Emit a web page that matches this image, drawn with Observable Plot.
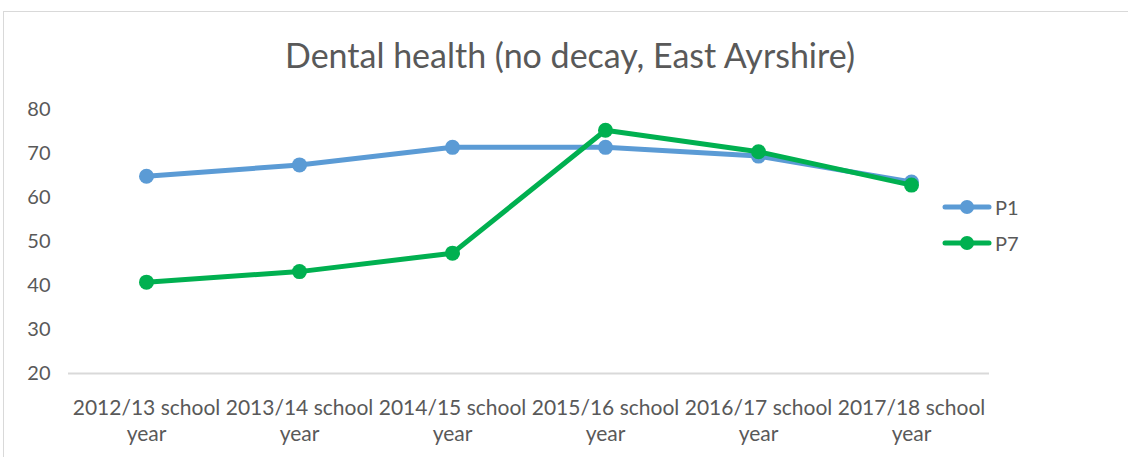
<!DOCTYPE html>
<html>
<head>
<meta charset="utf-8">
<script src="https://cdn.jsdelivr.net/npm/d3@7"></script>
<script src="https://cdn.jsdelivr.net/npm/@observablehq/plot@0.6"></script>
<style>
  html, body { margin: 0; padding: 0; background: #fff; }
  body { width: 1128px; height: 457px; position: relative; overflow: hidden; font-family: Lato, "Open Sans", sans-serif; }
  #frame { position: absolute; left: 3px; top: 11px; width: 1130px; height: 460px; border: 1px solid #d9d9d9; box-sizing: border-box; }
  #title { position: absolute; left: 0; width: 1140px; top: 34px; text-align: center; font-size: 34px; color: #595959; white-space: nowrap; }
  #chart { position: absolute; left: 0; top: 0; }
  #legend { position: absolute; left: 942px; top: 189px; color: #595959; font-size: 20px; }
  .item { display: flex; align-items: center; height: 36px; }
  .item span { margin-left: 3px; }
</style>
</head>
<body>
<div id="frame"></div>
<div id="title">Dental health (no decay, East Ayrshire)</div>
<div id="chart"></div>
<div id="legend"></div>
<script>
const categories = ["2012/13 school year", "2013/14 school year", "2014/15 school year", "2015/16 school year", "2016/17 school year", "2017/18 school year"];
const seriesNames = ["P1", "P7"];
const p1 = [64.9, 67.5, 71.5, 71.5, 69.5, 63.6];
const p7 = [40.8, 43.2, 47.4, 75.4, 70.5, 62.9];
const yTicks = [20, 30, 40, 50, 60, 70, 80];
const colors = ["#5B9BD5", "#00B050"];

const rows = [];
[p1, p7].forEach((vals, si) => vals.forEach((v, i) => rows.push({series: seriesNames[si], cat: categories[i], value: v})));

const marks = [
  Plot.ruleY([20], {stroke: "#d9d9d9", strokeWidth: 2}),
  Plot.axisY({ticks: yTicks, tickSize: 0, tickPadding: 18, fontSize: 20, fill: "#595959", label: null}),
  Plot.axisX({tickSize: 0, tickPadding: 23, fontSize: 21, fill: "#595959", label: null, lineHeight: 1.25,
    tickFormat: d => d.replace(" year", "\nyear")})
];
seriesNames.forEach((s, si) => {
  const data = rows.filter(r => r.series === s);
  marks.push(Plot.line(data, {x: "cat", y: "value", stroke: colors[si], strokeWidth: 5, strokeLinejoin: "round", strokeLinecap: "round"}));
  marks.push(Plot.dot(data, {x: "cat", y: "value", fill: colors[si], r: 7.5}));
});

const chart = Plot.plot({
  width: 1128,
  height: 457,
  marginLeft: 68,
  marginRight: 139,
  marginTop: 109.5,
  marginBottom: 84,
  style: {background: "transparent", fontFamily: "Lato, 'Open Sans', sans-serif", overflow: "visible"},
  x: {type: "point", domain: categories, padding: 0.5, axis: null},
  y: {domain: [20, 80], axis: null},
  marks
});
document.getElementById("chart").appendChild(chart);

const legend = document.getElementById("legend");
seriesNames.forEach((s, si) => {
  const item = document.createElement("div");
  item.className = "item";
  item.innerHTML = `<svg width="50" height="16"><line x1="3" x2="47" y1="8" y2="8" stroke="${colors[si]}" stroke-width="5" stroke-linecap="round"/><circle cx="25" cy="8" r="7" fill="${colors[si]}"/></svg><span>${s}</span>`;
  legend.appendChild(item);
});
</script>
</body>
</html>
